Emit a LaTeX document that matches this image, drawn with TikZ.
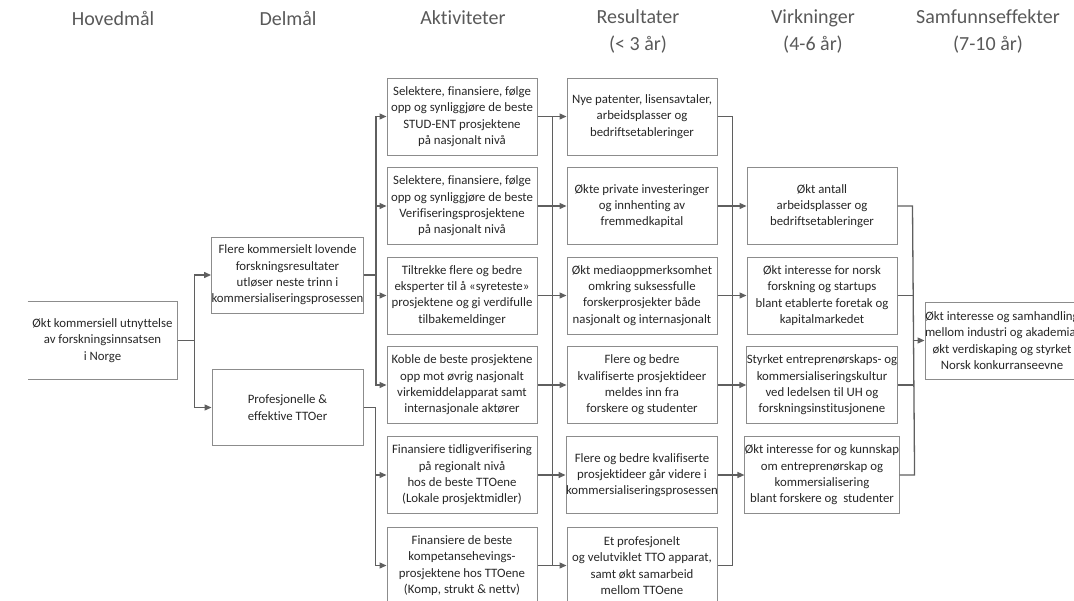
\documentclass[tikz,border=0pt]{standalone}
\usepackage{fontspec}
\setmainfont{Carlito}[Ligatures={NoCommon}]
\usetikzlibrary{arrows.meta}
\definecolor{boxgray}{HTML}{8C8C8C}
\definecolor{linegray}{HTML}{5F5F5F}
\definecolor{txt}{HTML}{262626}
\definecolor{hdr}{HTML}{595959}
\tikzset{
  box/.style={draw=boxgray, line width=1pt, minimum width=150pt, minimum height=77pt,
    inner sep=0pt, align=center, text=txt, font=\fontsize{12.8}{16.3}\selectfont},
  openbox/.style={box, draw=none},
  hdrtext/.style={align=center, text=hdr, font=\fontsize{20}{27.5}\selectfont},
  conn/.style={draw=linegray, line width=1.3pt},
  arr/.style={conn, -{Triangle[length=7pt,width=6pt]}}
}
\begin{document}
\begin{tikzpicture}[x=1pt,y=-1pt]
\useasboundingbox (0,0) rectangle (1074,600);
\clip (0,0) rectangle (1074,600);
% headers
\node[hdrtext] (h1) at (113,18) {Hovedmål};
\node[hdrtext] (h2) at (288,18) {Delmål};
\node[hdrtext] (h3) at (463,18) {Aktiviteter};
\node[hdrtext] (h4) at (638,31.5) {Resultater\\(< 3 år)};
\node[hdrtext] (h5) at (813,31.5) {Virkninger\\(4-6 år)};
\node[hdrtext] (h6) at (988,31.5) {Samfunnseffekter\\(7-10 år)};
% Hovedmål
\node[openbox, minimum width=149pt] (H) at (102.5,340.5) {Økt kommersiell utnyttelse\\av forskningsinnsatsen\\i Norge};
\draw[draw=boxgray, line width=1pt] (H.north west) -- (H.north east) -- (H.south east) -- (H.south west);
% Delmål
\node[box, minimum width=151pt, minimum height=76pt] (D1) at (287.5,275) {Flere kommersielt lovende\\forskningsresultater\\utløser neste trinn i\\kommersialiseringsprosessen};
\node[box, minimum width=151pt, minimum height=76pt] (D2) at (287.5,407.5) {Profesjonelle \&\\effektive TTOer};
% Aktiviteter
\node[box] (A1) at (462,116.5) {Selektere, finansiere, følge\\opp og synliggjøre de beste\\STUD-ENT prosjektene\\på nasjonalt nivå};
\node[box] (A2) at (462,206) {Selektere, finansiere, følge\\opp og synliggjøre de beste\\Verifiseringsprosjektene\\på nasjonalt nivå};
\node[box] (A3) at (462,295.5) {Tiltrekke flere og bedre\\eksperter til å «syreteste»\\prosjektene og gi verdifulle\\tilbakemeldinger};
\node[box] (A4) at (462,385) {Koble de beste prosjektene\\opp mot øvrig nasjonalt\\virkemiddelapparat samt\\internasjonale aktører};
\node[box] (A5) at (462,475) {Finansiere tidligverifisering\\på regionalt nivå\\hos de beste TTOene\\(Lokale prosjektmidler)};
\node[box] (A6) at (462,565.5) {Finansiere de beste\\kompetansehevings-\\prosjektene hos TTOene\\(Komp, strukt \& nettv)};
% Resultater
\node[box] (R1) at (642,116.5) {Nye patenter, lisensavtaler,\\arbeidsplasser og\\bedriftsetableringer};
\node[box] (R2) at (642,206) {Økte private investeringer\\og innhenting av\\fremmedkapital};
\node[box] (R3) at (642,295.5) {Økt mediaoppmerksomhet\\omkring suksessfulle\\forskerprosjekter både\\nasjonalt og internasjonalt};
\node[box] (R4) at (642,385) {Flere og bedre\\kvalifiserte prosjektideer\\meldes inn fra\\forskere og studenter};
\node[box] (R5) at (642,475) {Flere og bedre kvalifiserte\\prosjektideer går videre i\\kommersialiseringsprosessen};
\node[box] (R6) at (642,565.5) {Et profesjonelt\\og velutviklet TTO apparat,\\samt økt samarbeid\\mellom TTOene};
% Virkninger
\node[box] (V1) at (822,206) {Økt antall\\arbeidsplasser og\\bedriftsetableringer};
\node[box] (V2) at (822,295.5) {Økt interesse for norsk\\forskning og startups\\blant etablerte foretak og\\kapitalmarkedet};
\node[box] (V3) at (822,385) {Styrket entreprenørskaps- og\\kommersialiseringskultur\\ved ledelsen til UH og\\forskningsinstitusjonene};
\node[box] (V4) at (822,475) {Økt interesse for og kunnskap\\om entreprenørskap og\\kommersialisering\\blant forskere og\ \ studenter};
% Samfunnseffekter
\node[box] (S) at (1002,340.5) {Økt interesse og samhandling\\mellom industri og akademia,\\økt verdiskaping og styrket\\Norsk konkurranseevne};
% connectors Hovedmål -> Delmål
\draw[arr] (H.east) -- ++(17,0) |- (D1.west);
\draw[arr] (H.east) -- ++(17,0) |- (D2.west);
% Delmål -> Aktiviteter
\draw[arr] (D1.east) -- ++(12,0) |- (A1.west);
\draw[arr] (D1.east) -- ++(12,0) |- (A2.west);
\draw[arr] (D1.east) -- ++(12,0) |- (A3.west);
\draw[arr] (D1.east) -- ++(12,0) |- (A4.west);
\draw[arr] (D2.east) -- ++(12,0) |- (A5.west);
\draw[arr] (D2.east) -- ++(12,0) |- (A6.west);
% Aktiviteter -> Resultater
\path (A1.east) ++(15,0) coordinate (bA1);
\path (A6.east) ++(15,0) coordinate (bA6);
\draw[conn] (bA1) -- (bA6);
\foreach \i in {1,...,6} { \draw[arr] (A\i.east) -- (R\i.west); }
% Resultater -> Virkninger
\path (R1.east) ++(15,0) coordinate (bR1);
\path (R6.east) ++(15,0) coordinate (bR6);
\draw[conn] (R1.east) -- (bR1) -- (bR6) -- (R6.east);
\draw[arr] (R2.east) -- (V1.west);
\draw[arr] (R3.east) -- (V2.west);
\draw[arr] (R4.east) -- (V3.west);
\draw[arr] (R5.east) -- (V4.west);
% Virkninger -> Samfunnseffekter
\path (V1.east) ++(15,0) coordinate (bV1);
\path (V4.east) ++(15,0) coordinate (bV4);
\draw[conn] (V1.east) -- (bV1) -- (bV4) -- (V4.east);
\draw[conn] (V2.east) -- (V2.east -| bV1);
\draw[conn] (V3.east) -- (V3.east -| bV1);
\draw[arr] (S.west -| bV1) -- (S.west);
\end{tikzpicture}
\end{document}
